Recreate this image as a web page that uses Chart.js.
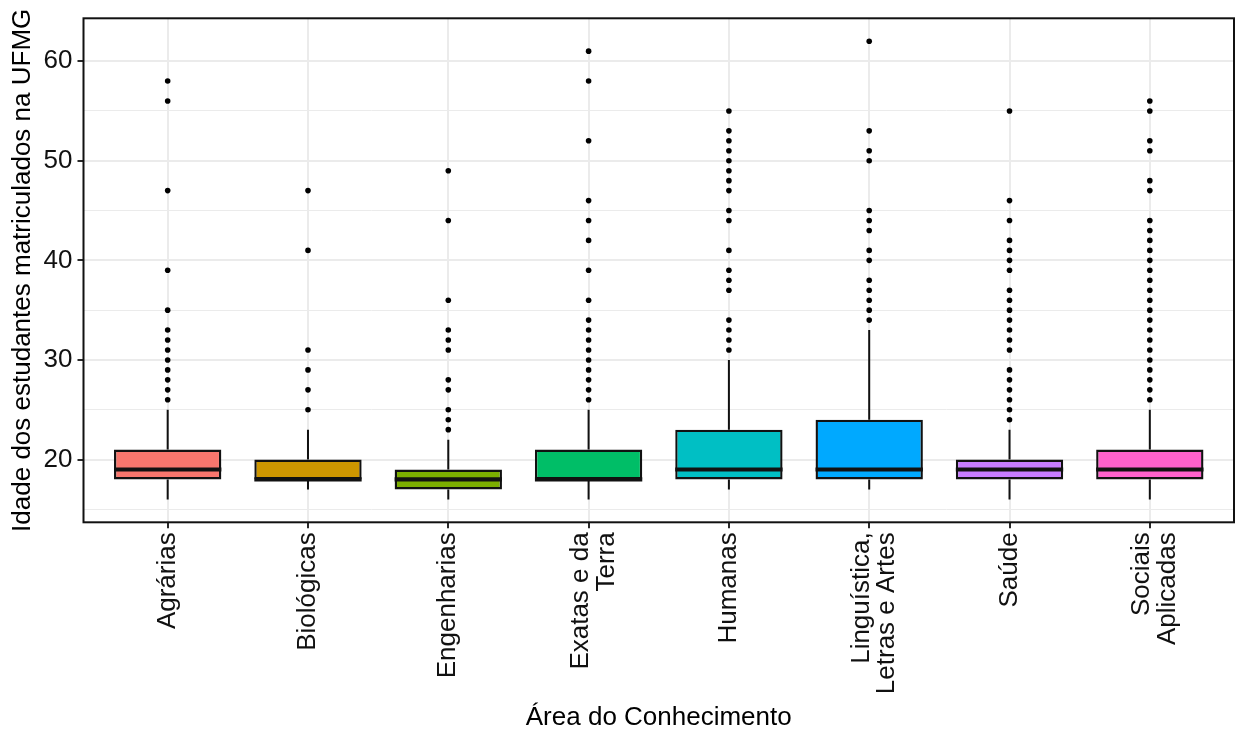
<!DOCTYPE html>
<html>
<head>
<meta charset="utf-8">
<script src="https://cdn.jsdelivr.net/npm/chart.js@4.4.1/dist/chart.umd.min.js"></script>
<style>
html,body{margin:0;padding:0;background:#ffffff;}
#wrap{width:1238px;height:732px;position:relative;}
</style>
</head>
<body>
<div id="wrap"><canvas id="c" width="1238" height="732"></canvas></div>
<script>
const categories = ['Agrárias','Biológicas','Engenharias','Exatas e da Terra','Humanas','Linguística, Letras e Artes','Saúde','Sociais Aplicadas'];
const tickLabels = [['Agrárias'],['Biológicas'],['Engenharias'],['Exatas e da','Terra'],['Humanas'],['Linguística,','Letras e Artes'],['Saúde'],['Sociais','Aplicadas']];
const lowerWhisker = [16,17,16,16,17,17,16,16];
const q1 = [18,18,17,18,18,18,18,18];
const median = [19,18,18,18,19,19,19,19];
const q3 = [21,20,19,21,23,24,20,21];
const upperWhisker = [25,23,22,25,30,33,23,25];
const outliers = [
  [26,27,28,29,30,31,32,33,35,39,47,56,58],
  [25,27,29,31,41,47],
  [23,24,25,27,28,31,32,33,36,44,49],
  [26,27,28,29,30,31,32,33,34,36,39,42,44,46,52,58,61],
  [31,32,33,34,37,38,39,41,44,45,47,48,49,50,51,52,53,55],
  [34,35,36,37,38,40,41,43,44,45,50,51,53,62],
  [24,25,26,27,28,29,31,32,33,34,35,36,37,39,40,41,42,44,46,55],
  [26,27,28,29,30,31,32,33,34,35,36,37,38,39,40,41,42,43,44,47,48,51,52,55,56]
];
const boxColors = ['#F8766D','#CD9600','#7CAE00','#00BE67','#00BFC4','#00A9FF','#C77CFF','#FF61CC'];
const yTickValues = [15,20,25,30,35,40,45,50,55,60];
const yLabelValues = [20,30,40,50,60];

const FONT = '"Liberation Sans", Arial, Helvetica, sans-serif';
const TICK_SIZE = 26, TICK_LH = 0.98;
const INK = '#111111';

const boxplotPlugin = {
  id: 'boxplotParts',
  beforeDraw(chart) {
    const xs = chart.scales.x;
    const items = xs.getLabelItems();
    const lh = TICK_SIZE * TICK_LH;
    items.forEach(it => {
      if (!it.__shifted && Array.isArray(it.label) && it.label.length > 1) {
        it.options.translation[0] -= (it.label.length - 1) * lh / 2 - 5;
        it.__shifted = true;
      }
    });
  },
  beforeDatasetsDraw(chart) {
    const {ctx} = chart;
    const y = chart.scales.y;
    const bars = chart.getDatasetMeta(0).data;
    ctx.save();
    ctx.strokeStyle = INK;
    ctx.lineWidth = 2;
    bars.forEach((bar, i) => {
      ctx.beginPath();
      ctx.moveTo(bar.x, y.getPixelForValue(q3[i]));
      ctx.lineTo(bar.x, y.getPixelForValue(upperWhisker[i]));
      ctx.moveTo(bar.x, y.getPixelForValue(q1[i]));
      ctx.lineTo(bar.x, y.getPixelForValue(lowerWhisker[i]));
      ctx.stroke();
    });
    ctx.restore();
  },
  afterDatasetsDraw(chart) {
    const {ctx} = chart;
    const y = chart.scales.y;
    const bars = chart.getDatasetMeta(0).data;
    ctx.save();
    ctx.strokeStyle = INK;
    ctx.lineWidth = 4.2;
    bars.forEach((bar, i) => {
      const py = y.getPixelForValue(median[i]);
      ctx.beginPath();
      ctx.moveTo(bar.x - bar.width / 2, py);
      ctx.lineTo(bar.x + bar.width / 2, py);
      ctx.stroke();
    });
    ctx.restore();
  },
  afterDraw(chart) {
    const {ctx, chartArea: a} = chart;
    ctx.save();
    ctx.strokeStyle = INK;
    ctx.lineWidth = 2;
    ctx.strokeRect(a.left, a.top, a.right - a.left, a.bottom - a.top);
    ctx.restore();
  }
};

new Chart(document.getElementById('c'), {
  type: 'bar',
  data: {
    datasets: [
      {
        type: 'bar',
        label: 'box',
        data: categories.map((c, i) => ({x: i + 1, y: [q1[i], q3[i]]})),
        backgroundColor: boxColors,
        borderColor: INK,
        borderWidth: 2.4,
        borderSkipped: false,
        barPercentage: 0.765,
        categoryPercentage: 1.0,
        order: 1
      },
      {
        type: 'scatter',
        label: 'outliers',
        data: outliers.flatMap((arr, i) => arr.map(v => ({x: i + 1, y: v}))),
        pointRadius: 2.8,
        pointBackgroundColor: '#000000',
        pointBorderWidth: 0,
        showLine: false,
        order: 2
      }
    ]
  },
  options: {
    responsive: false,
    animation: false,
    devicePixelRatio: 1,
    layout: {padding: {left: 0, right: 1, top: 18.3, bottom: 0}},
    plugins: {legend: {display: false}, tooltip: {enabled: false}},
    scales: {
      x: {
        type: 'linear',
        offset: false,
        min: 0.4,
        max: 8.6,
        afterBuildTicks: (s) => { s.ticks = categories.map((c, i) => ({value: i + 1})); },
        afterFit: (s) => { s.height = 732 - 522.3; s.paddingLeft = 0; s.paddingRight = 0; s.paddingTop = 0; s.paddingBottom = 0; },
        ticks: {
          autoSkip: false,
          minRotation: 90,
          maxRotation: 90,
          padding: 4,
          color: '#111111',
          font: {family: FONT, size: TICK_SIZE, lineHeight: TICK_LH},
          callback: (v) => tickLabels[Math.round(v) - 1]
        },
        grid: {offset: false, color: '#EBEBEB', lineWidth: 2, tickColor: INK, tickLength: 6, tickWidth: 1.8},
        border: {display: false},
        title: {display: true, text: 'Área do Conhecimento', color: '#000000', font: {family: FONT, size: 26, lineHeight: 1.1}, padding: {top: 0, bottom: 0}}
      },
      y: {
        type: 'linear',
        min: 13.7,
        max: 64.3,
        afterBuildTicks: (s) => { s.ticks = yTickValues.map(v => ({value: v})); },
        afterFit: (s) => { s.width = 83.5; s.paddingTop = 0; s.paddingBottom = 0; s.paddingLeft = 0; s.paddingRight = 0; },
        ticks: {
          padding: 5,
          color: '#111111',
          font: {family: FONT, size: TICK_SIZE},
          callback: (v) => yLabelValues.includes(v) ? String(v) : ''
        },
        grid: {
          color: '#EBEBEB',
          lineWidth: (ctx) => (ctx.tick && yLabelValues.includes(ctx.tick.value)) ? 2 : 1,
          tickColor: (ctx) => (ctx.tick && yLabelValues.includes(ctx.tick.value)) ? INK : 'rgba(0,0,0,0)',
          tickLength: 6,
          tickWidth: 1.8
        },
        border: {display: false},
        title: {display: true, text: 'Idade dos estudantes matriculados na UFMG', color: '#000000', font: {family: FONT, size: 26, lineHeight: 1.2}, padding: {top: 7, bottom: 0}}
      }
    }
  },
  plugins: [boxplotPlugin]
});
</script>
</body>
</html>
